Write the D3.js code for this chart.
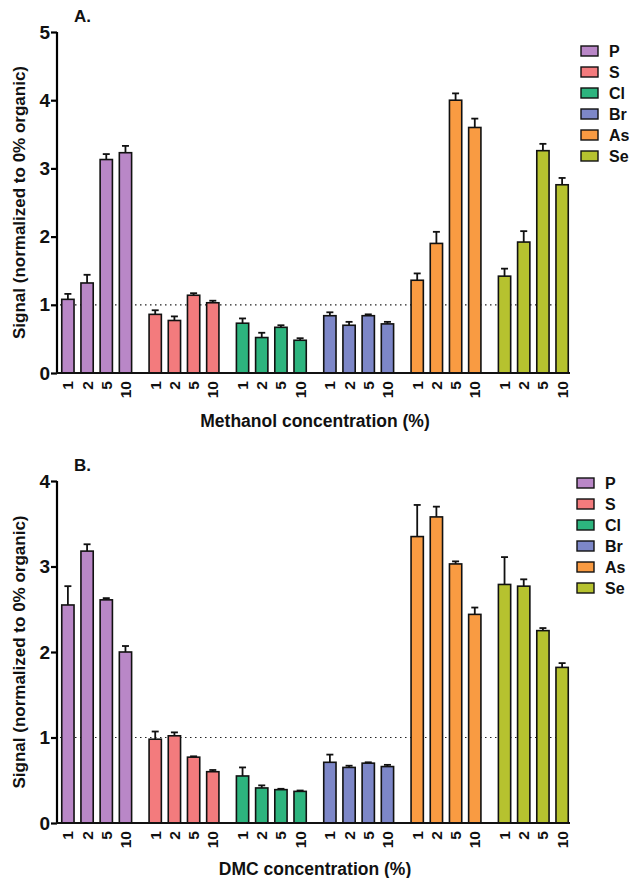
<!DOCTYPE html>
<html><head><meta charset="utf-8">
<script src="https://cdn.jsdelivr.net/npm/d3@7"></script>
<style>body{margin:0;background:#fff}text{font-family:Arial,"Liberation Sans",sans-serif;font-weight:bold;fill:#111}</style>
</head><body><svg id="c" width="629" height="878"></svg>
<script>
var elements = ["P", "S", "Cl", "Br", "As", "Se"];
var colors = ["#b987c7", "#f37b7d", "#2db47e", "#7d87c8", "#f99b42", "#b6c22f"];
var concs = ["1", "2", "5", "10"];
var methanolMean = [[1.08,1.32,3.13,3.23],[0.86,0.77,1.14,1.03],[0.73,0.52,0.67,0.48],[0.84,0.70,0.84,0.72],[1.36,1.90,4.00,3.60],[1.42,1.92,3.26,2.76]];
var methanolErr = [[0.08,0.12,0.08,0.10],[0.06,0.06,0.03,0.03],[0.07,0.07,0.03,0.03],[0.05,0.05,0.02,0.03],[0.10,0.17,0.10,0.13],[0.11,0.16,0.10,0.10]];
var dmcMean = [[2.55,3.18,2.61,2.00],[0.98,1.02,0.77,0.60],[0.55,0.41,0.39,0.37],[0.71,0.65,0.70,0.66],[3.35,3.58,3.03,2.44],[2.79,2.77,2.25,1.82]];
var dmcErr = [[0.22,0.08,0.02,0.07],[0.09,0.04,0.01,0.02],[0.10,0.03,0.01,0.01],[0.09,0.02,0.01,0.02],[0.37,0.12,0.03,0.08],[0.32,0.08,0.03,0.05]];

var svg = d3.select("#c");

function panel(opt) {
  var g = svg.append("g");
  var y = d3.scaleLinear().domain([0, opt.max]).range([opt.y0, opt.y1]);
  var groupX = d3.scaleBand().domain(elements).range([60, 570]).paddingInner(0.2).paddingOuter(0.02);
  var x = d3.scaleBand().domain(concs).range([0, groupX.bandwidth()]).paddingInner(0.36);

  g.append("line").attr("x1", 60).attr("x2", 570).attr("y1", y(1)).attr("y2", y(1))
    .attr("stroke", "#222").attr("stroke-width", 1.2).attr("stroke-dasharray", "1.5,3.5");

  elements.forEach(function (e, i) {
    var gg = g.append("g").attr("transform", "translate(" + groupX(e) + ",0)");
    concs.forEach(function (c, j) {
      var v = opt.mean[i][j], er = opt.err[i][j];
      var cx = x(c) + x.bandwidth() / 2;
      gg.append("line").attr("x1", cx).attr("x2", cx).attr("y1", y(v)).attr("y2", y(v + er)).attr("stroke", "#111").attr("stroke-width", 1.8);
      gg.append("line").attr("x1", cx - 3.5).attr("x2", cx + 3.5).attr("y1", y(v + er)).attr("y2", y(v + er)).attr("stroke", "#111").attr("stroke-width", 1.8);
      gg.append("rect").attr("x", x(c)).attr("width", x.bandwidth()).attr("y", y(v)).attr("height", y(0) - y(v))
        .attr("fill", colors[i]).attr("stroke", "#111").attr("stroke-width", 1.6);
      gg.append("text").attr("transform", "translate(" + (cx + 5.5) + "," + (y(0) + 8) + ") rotate(-90)")
        .attr("text-anchor", "end").attr("font-size", 15.5).text(c);
    });
  });

  var ax = g.append("g").attr("transform", "translate(57,0)")
    .call(d3.axisLeft(y).ticks(opt.max).tickSize(6).tickFormat(d3.format("d")));
  ax.select(".domain").attr("stroke-width", 2.2).attr("d", "M0," + opt.y1 + "V" + opt.y0);
  ax.selectAll(".tick line").attr("stroke-width", 2.2);
  ax.selectAll(".tick text").attr("font-size", 19).attr("x", -7);
  g.append("line").attr("x1", 56).attr("x2", 570).attr("y1", y(0)).attr("y2", y(0)).attr("stroke", "#111").attr("stroke-width", 2.2);

  g.append("text").attr("x", 74).attr("y", opt.y1 - 10).attr("font-size", 17).text(opt.label);
  g.append("text").attr("transform", "translate(25," + ((opt.y0 + opt.y1) / 2) + ") rotate(-90)")
    .attr("text-anchor", "middle").attr("font-size", 17).text("Signal (normalized to 0% organic)");
  g.append("text").attr("x", 315).attr("y", opt.titleY).attr("text-anchor", "middle").attr("font-size", 17.5).text(opt.title);

  elements.forEach(function (e, i) {
    var ly = opt.legY + i * opt.legStep;
    g.append("rect").attr("x", opt.legX).attr("y", ly - 5).attr("width", 17).attr("height", 10)
      .attr("fill", colors[i]).attr("stroke", "#111").attr("stroke-width", 1.4);
    g.append("text").attr("x", opt.legX + 28).attr("y", ly + 6).attr("font-size", 16).text(e);
  });
}

panel({ mean: methanolMean, err: methanolErr, max: 5, y0: 373, y1: 32, label: "A.", title: "Methanol concentration (%)", titleY: 427, legX: 581, legY: 51, legStep: 21 });
panel({ mean: dmcMean, err: dmcErr, max: 4, y0: 823, y1: 481, label: "B.", title: "DMC concentration (%)", titleY: 875, legX: 577, legY: 483, legStep: 21 });
</script></body></html>
